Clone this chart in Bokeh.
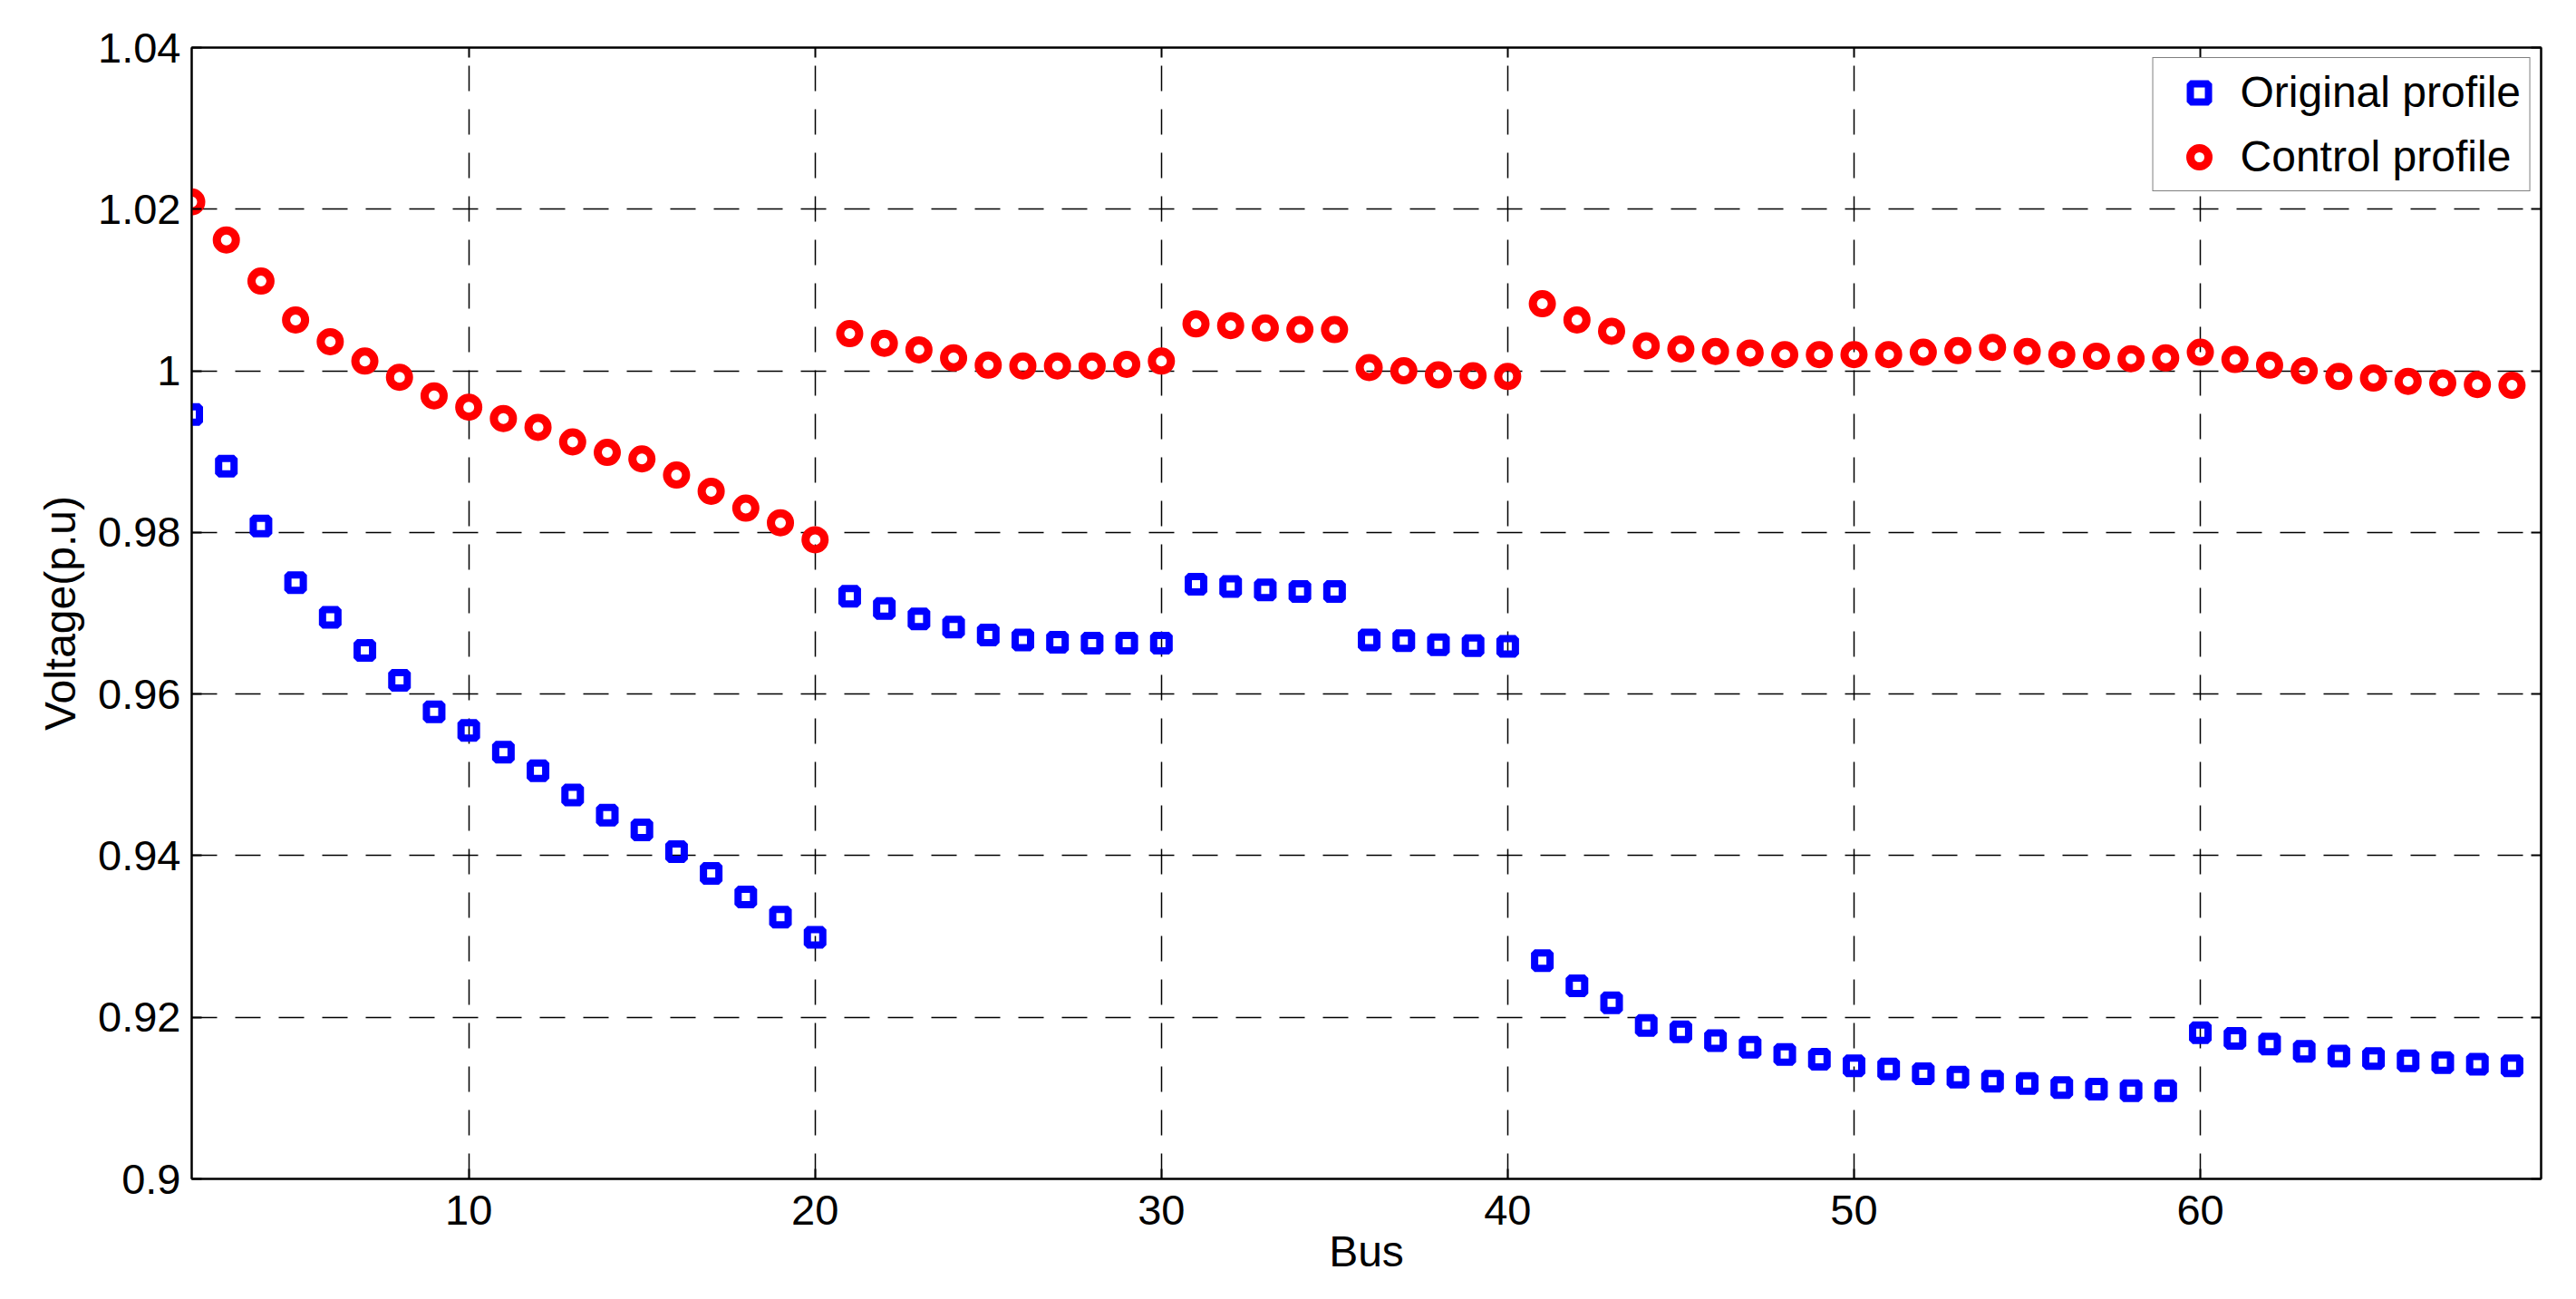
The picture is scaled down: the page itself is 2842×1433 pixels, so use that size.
from bokeh.plotting import figure
from bokeh.models import (Range1d, FixedTicker, LinearAxis, CustomJSTickFormatter,
                          Legend, LegendItem)
from bokeh.embed import file_html
from bokeh.resources import INLINE

bus = [2, 3, 4, 5, 6, 7, 8, 9, 10, 11, 12, 13, 14, 15, 16, 17, 18, 19, 20,
       21, 22, 23, 24, 25, 26, 27, 28, 29, 30, 31, 32, 33, 34, 35, 36, 37, 38, 39, 40,
       41, 42, 43, 44, 45, 46, 47, 48, 49, 50, 51, 52, 53, 54, 55, 56, 57, 58, 59, 60,
       61, 62, 63, 64, 65, 66, 67, 68, 69]

original_profile = [0.9946, 0.9882, 0.9808, 0.9738, 0.9695, 0.9654, 0.9617, 0.9578, 0.9555,
                    0.9528, 0.9505, 0.9475, 0.9450, 0.9432, 0.9405, 0.9378, 0.9349, 0.9324, 0.9299,
                    0.9721, 0.9706, 0.9693, 0.9683, 0.9673, 0.9667, 0.9664, 0.9663, 0.9663, 0.9663,
                    0.9736, 0.9733, 0.9729, 0.9727, 0.9727, 0.9667, 0.9666, 0.9661, 0.9660, 0.9659,
                    0.9270, 0.9239, 0.9218, 0.9190, 0.9182, 0.9171, 0.9163, 0.9154, 0.9148, 0.9140,
                    0.9136, 0.9130, 0.9126, 0.9121, 0.9118, 0.9113, 0.9111, 0.9109, 0.9109,
                    0.9181, 0.9174, 0.9167, 0.9158, 0.9152, 0.9149, 0.9146, 0.9144, 0.9142, 0.9140]

control_profile = [1.0209, 1.0162, 1.0111, 1.0063, 1.0036, 1.0012, 0.9992, 0.9969, 0.9955,
                   0.9941, 0.9930, 0.9912, 0.9899, 0.9891, 0.9871, 0.9851, 0.9830, 0.9812, 0.9791,
                   1.0046, 1.0034, 1.0026, 1.0016, 1.0007, 1.0006, 1.0006, 1.0006, 1.0008, 1.0012,
                   1.0058, 1.0056, 1.0053, 1.0051, 1.0051, 1.0004, 1.0000, 0.9995, 0.9994, 0.9993,
                   1.0083, 1.0063, 1.0049, 1.0031, 1.0027, 1.0024, 1.0022, 1.0020, 1.0020, 1.0020,
                   1.0020, 1.0023, 1.0025, 1.0029, 1.0024, 1.0020, 1.0018, 1.0015, 1.0016,
                   1.0023, 1.0014, 1.0007, 1.0000, 0.9993, 0.9991, 0.9987, 0.9985, 0.9983, 0.9982]

x_ticks = [10, 20, 30, 40, 50, 60]
x_tick_labels = ["10", "20", "30", "40", "50", "60"]
y_ticks = [0.90, 0.92, 0.94, 0.96, 0.98, 1.00, 1.02, 1.04]
y_tick_labels = ["0.9", "0.92", "0.94", "0.96", "0.98", "1", "1.02", "1.04"]

FONT = "Liberation Sans"
FS = "47px"
FS_LABEL = "48px"

p = figure(width=2834, height=1425, output_backend="svg", toolbar_location=None,
           x_range=Range1d(2, 69.84), y_range=Range1d(0.9, 1.04),
           min_border_left=211, min_border_right=31, min_border_top=52, min_border_bottom=125,
           background_fill_color="white", border_fill_color="white")
p.outline_line_color = "black"
p.outline_line_width = 2

def lookup_formatter(tv, tl):
    return CustomJSTickFormatter(args=dict(tv=tv, tl=tl), code="""
        let best = 0, bd = Infinity;
        for (let i = 0; i < tv.length; i++) {
            const d = Math.abs(tv[i] - tick);
            if (d < bd) { bd = d; best = i; }
        }
        return tl[best];
    """)

xa = p.xaxis[0]
ya = p.yaxis[0]
xa.ticker = FixedTicker(ticks=x_ticks)
ya.ticker = FixedTicker(ticks=y_ticks)
xa.formatter = lookup_formatter(x_ticks, x_tick_labels)
ya.formatter = lookup_formatter(y_ticks, y_tick_labels)
xa.axis_label = "Bus"
ya.axis_label = "Voltage(p.u)"
for ax in (xa, ya):
    ax.major_label_text_font = FONT
    ax.major_label_text_font_size = FS
    ax.major_label_text_color = "black"
    ax.axis_label_text_font = FONT
    ax.axis_label_text_font_size = FS_LABEL
    ax.axis_label_text_font_style = "normal"
    ax.axis_label_text_color = "black"
    ax.major_tick_in = 11
    ax.major_tick_out = 0
    ax.minor_tick_in = 0
    ax.minor_tick_out = 0
    ax.axis_line_width = 2
    ax.major_tick_line_width = 2
    ax.axis_line_color = "black"
    ax.major_tick_line_color = "black"
xa.major_label_standoff = 18
xa.axis_label_standoff = 0
ya.major_label_standoff = 12
ya.axis_label_standoff = 12

blank = CustomJSTickFormatter(code="return '';")
top = LinearAxis(ticker=FixedTicker(ticks=x_ticks), formatter=blank)
right = LinearAxis(ticker=FixedTicker(ticks=y_ticks), formatter=blank)
for ax in (top, right):
    ax.major_tick_in = 11
    ax.major_tick_out = 0
    ax.minor_tick_in = 0
    ax.minor_tick_out = 0
    ax.axis_line_width = 2
    ax.major_tick_line_width = 2
    ax.major_label_text_font_size = "0px"
    ax.major_label_standoff = 0
p.add_layout(top, "above")
p.add_layout(right, "right")

for g in (p.xgrid[0], p.ygrid[0]):
    g.grid_line_color = "black"
    g.grid_line_width = 1.5
    g.grid_line_dash = "28 20"
    g.grid_line_alpha = 1.0
p.xgrid[0].ticker = FixedTicker(ticks=x_ticks)
p.ygrid[0].ticker = FixedTicker(ticks=y_ticks)

r1 = p.scatter(bus, original_profile, marker="square", size=17, line_width=8,
               line_color="#0000FF", fill_color=None)
r2 = p.scatter(bus, control_profile, marker="circle", size=21, line_width=9,
               line_color="#FF0000", fill_color=None)

legend = Legend(items=[LegendItem(label="Original profile", renderers=[r1]),
                       LegendItem(label="Control profile", renderers=[r2])],
                location="top_right", margin=11, padding=10, spacing=16,
                glyph_width=81, glyph_height=50, label_height=50, label_standoff=5,
                label_text_font=FONT, label_text_font_size=FS_LABEL, label_text_color="black",
                border_line_color="black", border_line_width=1.5,
                background_fill_color="white", background_fill_alpha=1.0)
p.add_layout(legend, "center")

open("out.html", "w").write(file_html(p, INLINE))
